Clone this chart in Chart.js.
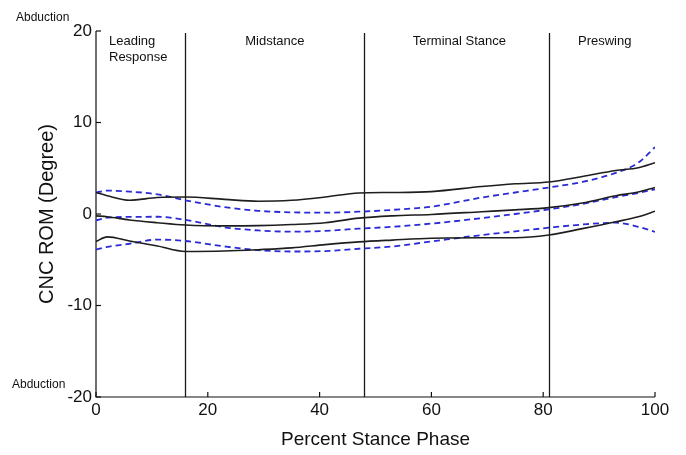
<!DOCTYPE html>
<html>
<head>
<meta charset="utf-8">
<script src="https://cdn.jsdelivr.net/npm/chart.js@4.4.1/dist/chart.umd.min.js"></script>
<style>
	html, body { margin: 0; padding: 0; background: #fff; }
	#wrap { width: 686px; height: 455px; }
</style>
</head>
<body>
<div id="wrap"><canvas id="romChart"></canvas></div>
<script>
// percent stance phase sample points
var pct = [0, 2, 6, 11, 16, 23, 29, 35, 41, 47, 53, 60, 69, 75, 81, 87, 93, 97, 100];

// black solid band (mean +/- sd)
var solidUpper = [2.35, 2.0, 1.5, 1.8, 1.85, 1.6, 1.4, 1.5, 1.85, 2.3, 2.35, 2.45, 3.0, 3.3, 3.5, 4.1, 4.75, 5.05, 5.6];
var solidMean = [-0.2, -0.3, -0.65, -0.95, -1.2, -1.3, -1.27, -1.15, -0.95, -0.45, -0.2, -0.05, 0.25, 0.45, 0.7, 1.2, 2.0, 2.4, 2.9];
var solidLower = [-3.0, -2.5, -2.95, -3.5, -4.1, -4.05, -3.9, -3.7, -3.35, -3.05, -2.85, -2.65, -2.6, -2.6, -2.3, -1.6, -0.85, -0.3, 0.3];

// blue dashed band
var dashUpper = [2.35, 2.55, 2.45, 2.15, 1.5, 0.75, 0.35, 0.18, 0.15, 0.25, 0.45, 0.8, 1.8, 2.35, 2.9, 3.5, 4.5, 5.6, 7.3];
var dashMean = [-0.7, -0.4, -0.32, -0.3, -0.65, -1.45, -1.8, -1.93, -1.85, -1.6, -1.4, -1.05, -0.45, 0.0, 0.5, 1.1, 1.85, 2.3, 2.7];
var dashLower = [-3.9, -3.6, -3.25, -2.8, -2.95, -3.55, -3.95, -4.1, -4.05, -3.8, -3.55, -3.0, -2.3, -1.9, -1.5, -1.15, -0.95, -1.4, -1.95];

// gait phases
var phaseBounds = [16, 48, 81];
var phaseNames = [['Leading', 'Response'], ['Midstance'], ['Terminal Stance'], ['Preswing']];
var phaseCenters = [null, 32, 65, 91];

var xTicks = [0, 20, 40, 60, 80, 100];
var yTicks = [-20, -10, 0, 10, 20];

function toPoints(ys) {
	var out = [];
	for (var i = 0; i < pct.length; i++) {
		out.push({ x: pct[i], y: ys[i] });
	}
	return out;
}

function solidSet(ys) {
	return {
		data: toPoints(ys),
		borderColor: '#1e1e1e',
		borderWidth: 1.6,
		pointRadius: 0,
		fill: false,
		cubicInterpolationMode: 'monotone'
	};
}

function dashSet(ys) {
	return {
		data: toPoints(ys),
		borderColor: '#2b2bd6',
		borderWidth: 1.8,
		borderDash: [6, 4],
		pointRadius: 0,
		fill: false,
		cubicInterpolationMode: 'monotone'
	};
}

const FONT = "'Liberation Sans', Arial, sans-serif";

// axes lines, inner ticks, phase lines and labels
const decoPlugin = {
	id: 'decoPlugin',
	beforeDatasetsDraw(chart) {
		const { ctx, chartArea: { top, bottom, left, right }, scales: { x, y } } = chart;
		ctx.save();
		ctx.strokeStyle = '#1a1a1a';
		ctx.lineWidth = 1.3;
		phaseBounds.forEach(function (b) {
			var px = Math.round(x.getPixelForValue(b)) + 0.5;
			ctx.beginPath();
			ctx.moveTo(px, top + 2);
			ctx.lineTo(px, bottom);
			ctx.stroke();
		});

		ctx.strokeStyle = '#111';
		ctx.lineWidth = 1.2;
		ctx.beginPath();
		ctx.moveTo(left, top);
		ctx.lineTo(left, bottom);
		ctx.lineTo(right, bottom);
		ctx.stroke();

		xTicks.forEach(function (t) {
			var px = x.getPixelForValue(t);
			ctx.beginPath();
			ctx.moveTo(px, bottom);
			ctx.lineTo(px, bottom - 5);
			ctx.stroke();
		});
		yTicks.forEach(function (t) {
			var py = y.getPixelForValue(t);
			ctx.beginPath();
			ctx.moveTo(left, py);
			ctx.lineTo(left + 5, py);
			ctx.stroke();
		});

		ctx.fillStyle = '#111';
		ctx.font = '13px ' + FONT;
		ctx.textBaseline = 'middle';
		// first phase label is left aligned
		ctx.textAlign = 'left';
		ctx.fillText(phaseNames[0][0], x.getPixelForValue(0) + 13, top + 10);
		ctx.fillText(phaseNames[0][1], x.getPixelForValue(0) + 13, top + 26);
		ctx.textAlign = 'center';
		for (var i = 1; i < phaseNames.length; i++) {
			ctx.fillText(phaseNames[i][0], x.getPixelForValue(phaseCenters[i]), top + 10);
		}

		ctx.font = '12px ' + FONT;
		ctx.textAlign = 'left';
		ctx.fillText('Abduction', 16, top - 13);
		ctx.fillText('Abduction', 12, bottom - 12);
		ctx.restore();
	}
};

var ctx = document.getElementById('romChart');
var romChart = new Chart(ctx, {
	type: 'line',
	data: {
		datasets: [
			solidSet(solidUpper),
			solidSet(solidMean),
			solidSet(solidLower),
			dashSet(dashUpper),
			dashSet(dashMean),
			dashSet(dashLower)
		]
	},
	options: {
		responsive: true,
		maintainAspectRatio: false,
		animation: false,
		events: [],
		layout: {
			padding: { left: 30, right: 31, top: 31, bottom: 0 }
		},
		plugins: {
			legend: { display: false },
			tooltip: { enabled: false }
		},
		scales: {
			x: {
				type: 'linear',
				min: 0,
				max: 100,
				afterFit: function (s) { s.height = 58; },
				afterBuildTicks: function (s) { s.ticks = xTicks.map(function (v) { return { value: v }; }); },
				ticks: {
					color: '#111',
					font: { size: 17, family: FONT },
					padding: 3,
					maxRotation: 0
				},
				grid: { display: false, drawTicks: false },
				border: { display: false },
				title: {
					display: true,
					text: 'Percent Stance Phase',
					color: '#111',
					font: { size: 19, family: FONT },
					padding: { top: 0, bottom: 4 }
				}
			},
			y: {
				min: -20,
				max: 20,
				afterFit: function (s) { s.width = 66; },
				afterBuildTicks: function (s) { s.ticks = yTicks.map(function (v) { return { value: v }; }); },
				ticks: {
					color: '#111',
					font: { size: 17, family: FONT },
					padding: 4
				},
				grid: { display: false, drawTicks: false },
				border: { display: false },
				title: {
					display: true,
					text: 'CNC ROM (Degree)',
					color: '#111',
					font: { size: 20, family: FONT },
					padding: { top: 5, bottom: 0 }
				}
			}
		}
	},
	plugins: [decoPlugin]
});
</script>
</body>
</html>
